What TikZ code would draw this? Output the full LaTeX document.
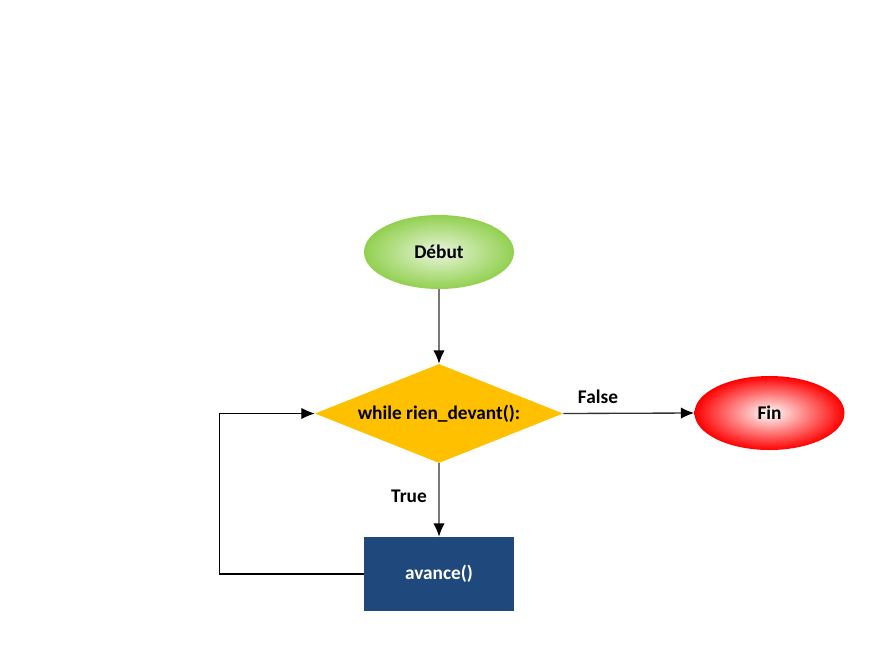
\documentclass[tikz,border=0pt]{standalone}
\usepackage{fontspec}
\setmainfont{Carlito}
\usetikzlibrary{shapes.geometric,arrows.meta}

\definecolor{vertdebut}{RGB}{146,208,80}
\definecolor{rougefin}{RGB}{255,0,0}
\definecolor{jaunecond}{RGB}{255,192,0}
\definecolor{bleuaction}{RGB}{31,73,125}
\definecolor{grisfleche}{RGB}{120,120,120}

\begin{document}
\begin{tikzpicture}[%
        x=0.75pt, y=-0.75pt,
        font=\fontsize{14.5}{17}\selectfont\bfseries,
        >={Latex[length=10pt,width=8.5pt,black]}, % Pfeilspitzen
        terminal/.style={ellipse, minimum width=112.5pt, minimum height=55.5pt, inner sep=0pt},
        decision/.style={diamond, fill=jaunecond, shape aspect=2.5, minimum width=186pt, minimum height=74.25pt, inner sep=0pt},
        action/.style={rectangle, fill=bleuaction, text=white, minimum width=112.5pt, minimum height=55.5pt},
        fleche/.style={->, line width=1pt, draw=grisfleche}
        ]
            \useasboundingbox (0,0) rectangle (894,662);

            % Knoten
            \node[terminal, shading=radial, inner color=vertdebut!20, outer color=vertdebut] (debut) at (439,252) {Début};
            \node[decision] (cond) at (439,413.5) {while rien\_devant():};
            \node[terminal, shading=radial, inner color=white, outer color=rougefin] (fin) at (769.5,413) {Fin};
            \node[action] (avance) at (439,574) {avance()};

            % Pfeile
            \draw[fleche] (debut) -- (cond);
            \draw[fleche, draw=black!80] (cond.east) -- (fin.west);
            \draw[fleche] (cond) -- (avance);
            \draw[->, line width=0.8pt] (avance.west) -- ++(-144,0) |- (cond.west);

            % Beschriftungen
            \node (lfalse) at (598,397) {False};
            \node (ltrue) at (409,496) {True};

        \end{tikzpicture}
\end{document}
